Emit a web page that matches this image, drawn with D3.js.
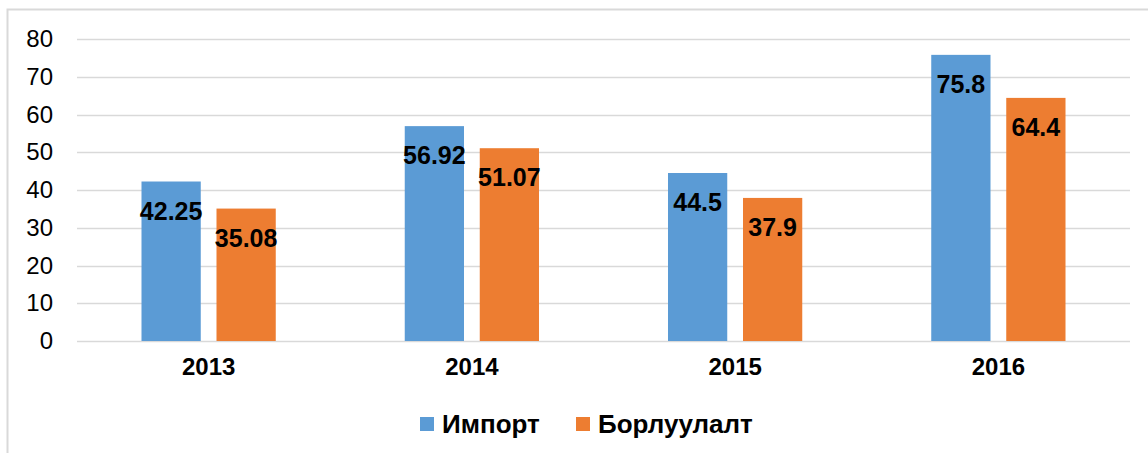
<!DOCTYPE html>
<html>
<head>
<meta charset="utf-8">
<script src="https://cdn.jsdelivr.net/npm/d3@7"></script>
<style>
  body { margin: 0; background: #fff; }
  svg { display: block; font-family: "Liberation Sans", Arial, sans-serif; }
</style>
</head>
<body>
<svg id="chart" width="1148" height="453"></svg>
<script>
// chart data
var years = ["2013", "2014", "2015", "2016"];
var seriesNames = ["Импорт", "Борлуулалт"];
var importValues = [42.25, 56.92, 44.5, 75.8];
var salesValues = [35.08, 51.07, 37.9, 64.4];
var yTicks = [0, 10, 20, 30, 40, 50, 60, 70, 80];
var colors = ["#5B9BD5", "#ED7D31"];

var svg = d3.select("#chart");
var W = 1148, H = 453;
var plotLeft = 77, plotRight = 1130, plotTop = 39, plotBottom = 341;

// outer frame (only left and top visible in the crop)
svg.append("path")
  .attr("d", "M7.5," + H + "V9.5H" + W)
  .attr("fill", "none")
  .attr("stroke", "#d9d9d9")
  .attr("stroke-width", 2);

var x = d3.scaleBand().domain(years).range([plotLeft, plotRight]).paddingInner(0.49).paddingOuter(0.245);
var xs = d3.scaleBand().domain(seriesNames).range([0, x.bandwidth()]).paddingInner(0.21);
var y = d3.scaleLinear().domain([0, 80]).range([plotBottom, plotTop]);

// gridlines
svg.append("g").selectAll("line").data(yTicks).join("line")
  .attr("x1", plotLeft).attr("x2", plotRight)
  .attr("y1", function(d) { return Math.round(y(d)) + 0.5; })
  .attr("y2", function(d) { return Math.round(y(d)) + 0.5; })
  .attr("stroke", "#d9d9d9")
  .attr("stroke-width", 1.5);

// y axis labels
var yAxis = svg.append("g")
  .attr("transform", "translate(" + (plotLeft - 8) + ",0)")
  .call(d3.axisLeft(y).tickValues(yTicks).tickSize(0).tickPadding(16));
yAxis.select(".domain").remove();
yAxis.selectAll("text")
  .attr("font-size", 24)
  .attr("font-family", "Liberation Sans, Arial, sans-serif")
  .attr("fill", "#000");

// x axis labels
var xAxis = svg.append("g")
  .attr("transform", "translate(0," + plotBottom + ")")
  .call(d3.axisBottom(x).tickSize(0).tickPadding(17));
xAxis.select(".domain").remove();
xAxis.selectAll("text")
  .attr("font-size", 24)
  .attr("font-weight", "bold")
  .attr("font-family", "Liberation Sans, Arial, sans-serif")
  .attr("fill", "#000");

var rows = years.map(function(yr, i) {
  return [
    { year: yr, name: seriesNames[0], value: importValues[i], color: colors[0] },
    { year: yr, name: seriesNames[1], value: salesValues[i], color: colors[1] }
  ];
});

var groups = svg.append("g").selectAll("g").data(rows).join("g")
  .attr("transform", function(d) { return "translate(" + x(d[0].year) + ",0)"; });

groups.selectAll("rect").data(function(d) { return d; }).join("rect")
  .attr("x", function(d) { return xs(d.name); })
  .attr("y", function(d) { return y(d.value); })
  .attr("width", xs.bandwidth())
  .attr("height", function(d) { return y(0) - y(d.value); })
  .attr("fill", function(d) { return d.color; });

groups.selectAll("text").data(function(d) { return d; }).join("text")
  .attr("x", function(d) { return xs(d.name) + xs.bandwidth() / 2; })
  .attr("y", function(d) { return y(d.value) + 38; })
  .attr("text-anchor", "middle")
  .attr("font-size", 25)
  .attr("font-weight", "bold")
  .attr("fill", "#000")
  .text(function(d) { return d.value; });

// legend
var legendX = [420, 576];
var legend = svg.append("g").selectAll("g").data(seriesNames).join("g")
  .attr("transform", function(d, i) { return "translate(" + legendX[i] + ",417)"; });
legend.append("rect")
  .attr("width", 14).attr("height", 14)
  .attr("fill", function(d, i) { return colors[i]; });
legend.append("text")
  .attr("x", 22).attr("y", 16)
  .attr("font-size", 26)
  .attr("font-weight", "bold")
  .attr("fill", "#000")
  .text(function(d) { return d; });
</script>
</body>
</html>
